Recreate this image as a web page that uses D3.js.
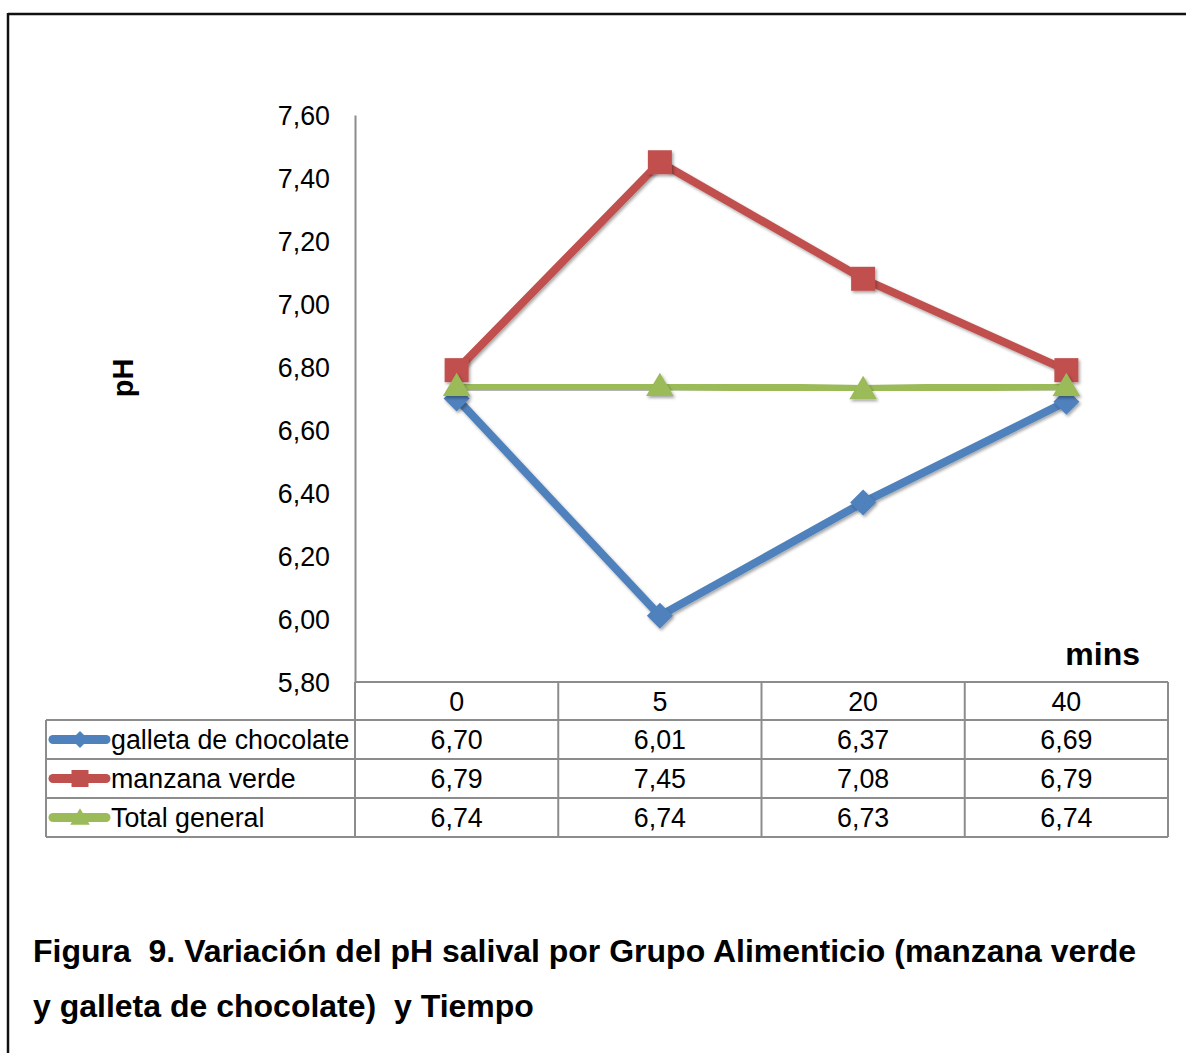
<!DOCTYPE html>
<html><head><meta charset="utf-8">
<script src="https://cdn.jsdelivr.net/npm/d3@7"></script>
<style>body{margin:0;background:#fff}svg{display:block}text{font-family:"Liberation Sans",Arial,sans-serif}</style>
</head><body>
<script>
const categories = ["0","5","20","40"];
const seriesNames = ["galleta de chocolate","manzana verde","Total general"];
const galleta = [6.70,6.01,6.37,6.69];
const manzana = [6.79,7.45,7.08,6.79];
const total = [6.74,6.74,6.73,6.74];
const yTicks = [5.80,6.00,6.20,6.40,6.60,6.80,7.00,7.20,7.40,7.60];
const colors = ["#4F81BD","#C0504D","#9BBB59"];
const markers = ["diamond","square","triangle"];
const seriesData = [galleta, manzana, total];

const W=1186,H=1053;
const svg=d3.select("body").append("svg").attr("width",W).attr("height",H);
const defs=svg.append("defs");
const f=defs.append("filter").attr("id","sh").attr("x","-50%").attr("y","-50%").attr("width","200%").attr("height","200%");
f.append("feDropShadow").attr("dx",1.5).attr("dy",2).attr("stdDeviation",1.5).attr("flood-color","#000").attr("flood-opacity",0.35);

// frame
svg.append("line").attr("x1",8).attr("x2",W).attr("y1",14).attr("y2",14).attr("stroke","#111").attr("stroke-width",2.5);
svg.append("line").attr("x1",8).attr("x2",8).attr("y1",13).attr("y2",H).attr("stroke","#111").attr("stroke-width",2.5);

const x0=355, x1=1168;
const x=d3.scaleBand().domain(categories).range([x0,x1]);
const y=d3.scaleLinear().domain([5.8,7.6]).range([682,115]);
const fmt=v=>d3.format(".2f")(v).replace(".",",");
const FS=26.8;

// y axis
const ya=svg.append("g").attr("transform",`translate(${x0},0)`).call(d3.axisLeft(y).tickValues(yTicks).tickSize(0).tickFormat(fmt));
ya.select(".domain").attr("stroke","#8c8c8c").attr("stroke-width",2);
ya.selectAll("text").attr("font-size",FS).attr("fill","#000").attr("x",-25).attr("dy","0.35em").attr("font-family","Liberation Sans");

// pH label
svg.append("text").attr("transform","translate(133,378) rotate(-90)").attr("text-anchor","middle").attr("font-size",29).attr("font-weight","bold").text("pH");
svg.append("text").attr("x",1140).attr("y",665).attr("text-anchor","end").attr("font-size",32).attr("font-weight","bold").text("mins");

// table
const rowY=[682,720,759,798,837];
const tableLeft=46;
const grid=svg.append("g").attr("stroke","#8c8c8c").attr("stroke-width",2);
grid.append("line").attr("x1",x0).attr("x2",x1).attr("y1",rowY[0]).attr("y2",rowY[0]);
for(let i=1;i<rowY.length;i++) grid.append("line").attr("x1",tableLeft).attr("x2",x1).attr("y1",rowY[i]).attr("y2",rowY[i]);
categories.forEach(c=>grid.append("line").attr("x1",x(c)).attr("x2",x(c)).attr("y1",rowY[0]).attr("y2",rowY[4]));
grid.append("line").attr("x1",x1).attr("x2",x1).attr("y1",rowY[0]).attr("y2",rowY[4]);
grid.append("line").attr("x1",tableLeft).attr("x2",tableLeft).attr("y1",rowY[1]).attr("y2",rowY[4]);

const cx=c=>x(c)+x.bandwidth()/2;
categories.forEach(c=>svg.append("text").attr("x",cx(c)).attr("y",(rowY[0]+rowY[1])/2).attr("dy","0.36em").attr("text-anchor","middle").attr("font-size",FS).text(c));

function markerPath(type,s){
  if(type==="diamond") return `M0,${-s}L${s},0L0,${s}L${-s},0Z`;
  if(type==="square") return `M${-s},${-s}H${s}V${s}H${-s}Z`;
  return `M0,${-s*1.1}L${s*1.15},${s*0.85}H${-s*1.15}Z`;
}

seriesData.forEach((vals,si)=>{
  const ry=(rowY[si+1]+rowY[si+2])/2;
  // legend key
  svg.append("line").attr("x1",53).attr("x2",106).attr("y1",ry).attr("y2",ry).attr("stroke",colors[si]).attr("stroke-width",9).attr("stroke-linecap","round");
  svg.append("path").attr("d",markerPath(markers[si],8.5)).attr("transform",`translate(80,${ry})`).attr("fill",colors[si]);
  svg.append("text").attr("x",111).attr("y",ry).attr("dy","0.36em").attr("font-size",FS).text(seriesNames[si]);
  vals.forEach((v,i)=>svg.append("text").attr("x",cx(categories[i])).attr("y",ry).attr("dy","0.36em").attr("text-anchor","middle").attr("font-size",FS).text(fmt(v)));
});

// lines
const line=d3.line().x((d,i)=>cx(categories[i])).y(d=>y(d));
seriesData.forEach((vals,si)=>{
  svg.append("path").datum(vals).attr("d",line).attr("fill","none").attr("stroke",colors[si]).attr("stroke-width",8).attr("stroke-linejoin","round").attr("filter","url(#sh)");
});
seriesData.forEach((vals,si)=>{
  svg.append("g").selectAll("path").data(vals).join("path")
    .attr("d",markerPath(markers[si],si===0?13:12))
    .attr("transform",(d,i)=>`translate(${cx(categories[i])},${y(d)})`)
    .attr("fill",colors[si]).attr("filter","url(#sh)");
});

// caption
const cap=svg.append("text").attr("font-size",32).attr("font-weight","bold").style("white-space","pre");
cap.append("tspan").attr("x",33).attr("y",962).text("Figura  9. Variación del pH salival por Grupo Alimenticio (manzana verde");
cap.append("tspan").attr("x",33).attr("y",1017).text("y galleta de chocolate)  y Tiempo");
</script>
</body></html>
